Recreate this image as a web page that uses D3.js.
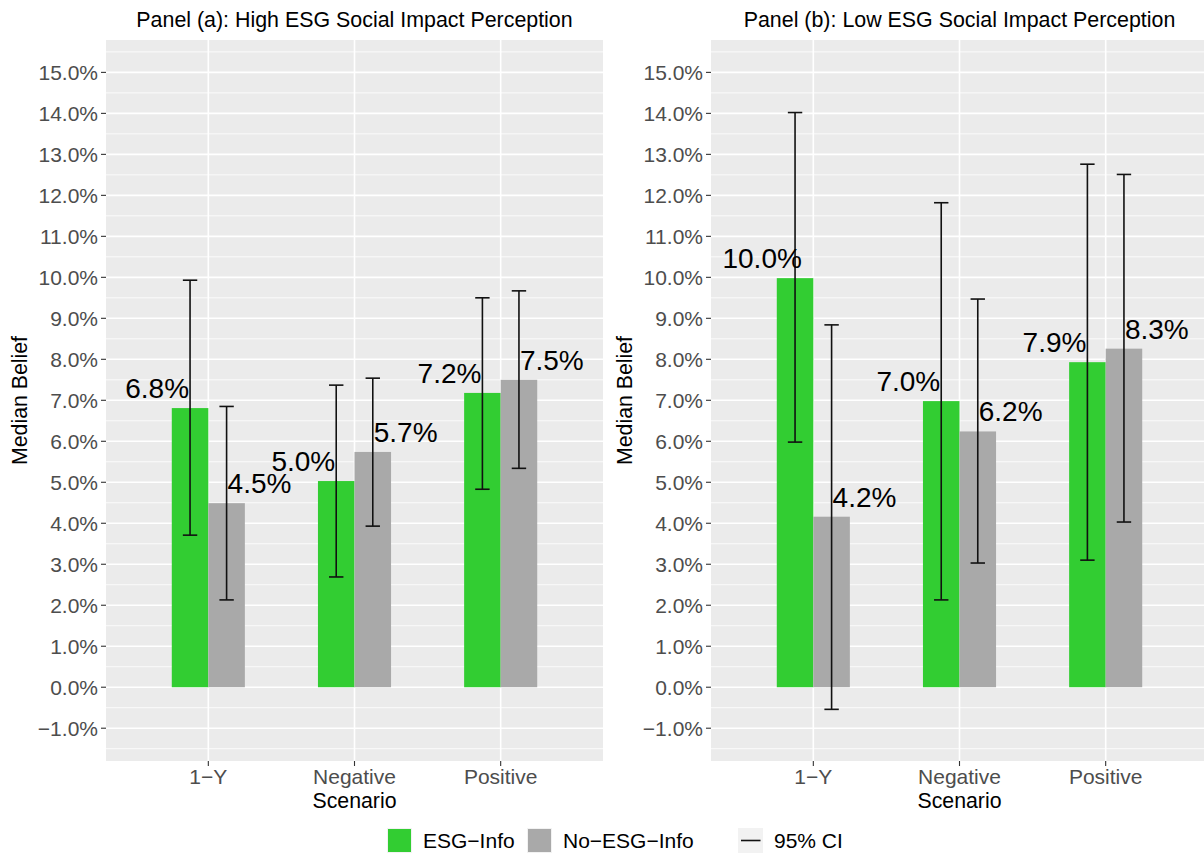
<!DOCTYPE html>
<html>
<head>
<meta charset="utf-8">
<script src="https://cdn.jsdelivr.net/npm/d3@7"></script>
<style>
  html, body { margin: 0; padding: 0; background: #fff; }
  svg { display: block; font-family: "Liberation Sans", Arial, Helvetica, sans-serif; }
</style>
</head>
<body>
<svg id="chart" width="1204" height="854"></svg>
<script>
// Scenario categories on the x axis
const categories = ["1\u2212Y", "Negative", "Positive"];

// Panel (a): high ESG social impact perception — median beliefs (%) and 95% CIs
const esgHigh      = [6.81, 5.03, 7.18];
const esgHighLo    = [3.71, 2.69, 4.83];
const esgHighHi    = [9.93, 7.37, 9.50];
const noEsgHigh    = [4.49, 5.74, 7.50];
const noEsgHighLo  = [2.13, 3.93, 5.34];
const noEsgHighHi  = [6.85, 7.54, 9.67];

// Panel (b): low ESG social impact perception
const esgLow       = [9.98, 6.98, 7.93];
const esgLowLo     = [5.98, 2.13, 3.10];
const esgLowHi     = [14.02, 11.82, 12.76];
const noEsgLow     = [4.16, 6.24, 8.26];
const noEsgLowLo   = [-0.54, 3.03, 4.03];
const noEsgLowHi   = [8.84, 9.47, 12.51];

// Axis ticks (percent)
const yMajorTicks = d3.range(-1, 15.01, 1);
const yMinorTicks = d3.range(-1.5, 15.6, 1);

const groups = ["ESG\u2212Info", "No\u2212ESG\u2212Info"];
const groupColors = ["#32CD32", "#A9A9A9"];

const panels = [
  { title: "Panel (a): High ESG Social Impact Perception", x0: 106, x1: 603,
    series: [
      { mid: esgHigh, lo: esgHighLo, hi: esgHighHi },
      { mid: noEsgHigh, lo: noEsgHighLo, hi: noEsgHighHi }
    ] },
  { title: "Panel (b): Low ESG Social Impact Perception", x0: 711, x1: 1208,
    series: [
      { mid: esgLow, lo: esgLowLo, hi: esgLowHi },
      { mid: noEsgLow, lo: noEsgLowLo, hi: noEsgLowHi }
    ] }
];

const svg = d3.select("#chart");
const plotTop = 40, plotBottom = 761;
const y = d3.scaleLinear().domain([-1.8, 15.79]).range([plotBottom, plotTop]);
const fmtTick = d3.format(".1f");
const fmtLabel = v => v.toFixed(1) + "%";

const textCol = "#4D4D4D";

panels.forEach(p => {
  const g = svg.append("g");
  const x = d3.scalePoint().domain(categories).range([p.x0, p.x1]).padding(0.7);
  const step = x.step();
  const bw = step * 0.25;

  // panel background
  g.append("rect").attr("x", p.x0).attr("y", plotTop)
    .attr("width", p.x1 - p.x0).attr("height", plotBottom - plotTop)
    .attr("fill", "#EBEBEB");

  // grid
  g.selectAll(".ymin").data(yMinorTicks).join("line")
    .attr("x1", p.x0).attr("x2", p.x1)
    .attr("y1", d => y(d)).attr("y2", d => y(d))
    .attr("stroke", "#fff").attr("stroke-width", 0.8);
  g.selectAll(".ymaj").data(yMajorTicks).join("line")
    .attr("x1", p.x0).attr("x2", p.x1)
    .attr("y1", d => y(d)).attr("y2", d => y(d))
    .attr("stroke", "#fff").attr("stroke-width", 1.6);
  g.selectAll(".xmaj").data(categories).join("line")
    .attr("x1", d => x(d)).attr("x2", d => x(d))
    .attr("y1", plotTop).attr("y2", plotBottom)
    .attr("stroke", "#fff").attr("stroke-width", 1.6);

  // bars
  p.series.forEach((s, gi) => {
    g.selectAll(null).data(categories).join("rect")
      .attr("x", d => x(d) - bw + gi * bw)
      .attr("width", bw)
      .attr("y", (d, i) => Math.min(y(s.mid[i]), y(0)))
      .attr("height", (d, i) => Math.abs(y(s.mid[i]) - y(0)))
      .attr("fill", groupColors[gi]);
  });

  // error bars
  p.series.forEach((s, gi) => {
    categories.forEach((c, i) => {
      const cx = x(c) - bw / 2 + gi * bw;
      const eg = g.append("g").attr("stroke", "#111").attr("stroke-width", 1.6);
      eg.append("line").attr("x1", cx).attr("x2", cx)
        .attr("y1", y(s.lo[i])).attr("y2", y(s.hi[i]));
      [s.lo[i], s.hi[i]].forEach(v => {
        eg.append("line").attr("x1", cx - 7.2).attr("x2", cx + 7.2)
          .attr("y1", y(v)).attr("y2", y(v));
      });
    });
  });

  // value labels
  p.series.forEach((s, gi) => {
    g.selectAll(null).data(categories).join("text")
      .attr("x", d => x(d) + (gi === 0 ? -0.35 : 0.35) * step)
      .attr("y", (d, i) => y(s.mid[i]) - 10)
      .attr("text-anchor", "middle")
      .attr("font-size", 28)
      .attr("fill", "#000")
      .text((d, i) => fmtLabel(s.mid[i]));
  });

  // y axis ticks & labels
  g.selectAll(".yt").data(yMajorTicks).join("line")
    .attr("x1", p.x0 - 5).attr("x2", p.x0)
    .attr("y1", d => y(d)).attr("y2", d => y(d))
    .attr("stroke", "#333").attr("stroke-width", 1.1);
  g.selectAll(".yl").data(yMajorTicks).join("text")
    .attr("x", p.x0 - 8).attr("y", d => y(d))
    .attr("dy", "0.36em")
    .attr("text-anchor", "end")
    .attr("font-size", 21).attr("fill", textCol)
    .text(d => fmtTick(d) + "%");

  // x axis ticks & labels
  g.selectAll(".xt").data(categories).join("line")
    .attr("x1", d => x(d)).attr("x2", d => x(d))
    .attr("y1", plotBottom).attr("y2", plotBottom + 5)
    .attr("stroke", "#333").attr("stroke-width", 1.1);
  g.selectAll(".xl").data(categories).join("text")
    .attr("x", d => x(d)).attr("y", 784)
    .attr("text-anchor", "middle")
    .attr("font-size", 21).attr("fill", textCol)
    .text(d => d);

  // axis titles
  const cx = (p.x0 + p.x1) / 2;
  g.append("text").attr("x", cx).attr("y", 808)
    .attr("text-anchor", "middle").attr("font-size", 21.3).attr("fill", "#000")
    .text("Scenario");
  g.append("text")
    .attr("transform", `translate(${p.x0 - 79},${(plotTop + plotBottom) / 2}) rotate(-90)`)
    .attr("text-anchor", "middle").attr("font-size", 21.3).attr("fill", "#000")
    .text("Median Belief");

  // panel title
  g.append("text").attr("x", cx).attr("y", 27)
    .attr("text-anchor", "middle").attr("font-size", 21.4).attr("fill", "#000")
    .text(p.title);
});

// legend
const lg = svg.append("g");
const keyY = 829, keySize = 23;
const fillKeys = [
  { x: 388, tx: 423 },
  { x: 528, tx: 563 }
];
fillKeys.forEach((k, i) => {
  lg.append("rect").attr("x", k.x - 1).attr("y", keyY - 1)
    .attr("width", keySize + 2).attr("height", keySize + 2).attr("fill", "#F2F2F2");
  lg.append("rect").attr("x", k.x).attr("y", keyY)
    .attr("width", keySize).attr("height", keySize).attr("fill", groupColors[i]);
  lg.append("text").attr("x", k.tx).attr("y", keyY + keySize / 2)
    .attr("dy", "0.36em").attr("font-size", 21).attr("fill", "#000")
    .text(groups[i]);
});
lg.append("rect").attr("x", 738).attr("y", 828).attr("width", 25).attr("height", 25)
  .attr("fill", "#F2F2F2");
lg.append("line").attr("x1", 741).attr("x2", 760.5).attr("y1", 840.5).attr("y2", 840.5)
  .attr("stroke", "#111").attr("stroke-width", 1.6);
lg.append("text").attr("x", 774).attr("y", 840.5).attr("dy", "0.36em")
  .attr("font-size", 21).attr("fill", "#000").text("95% CI");
</script>
</body>
</html>
